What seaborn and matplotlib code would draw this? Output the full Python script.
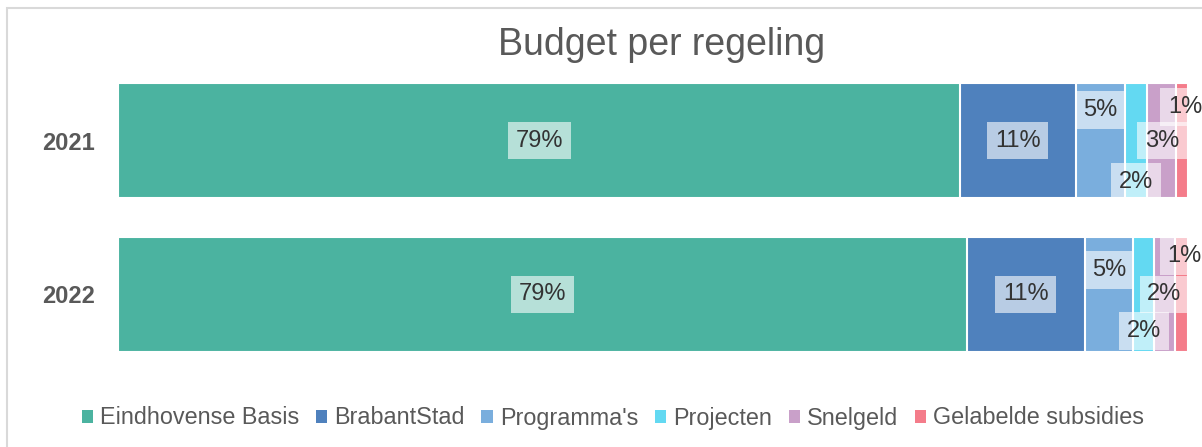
import matplotlib
matplotlib.use("Agg")
import matplotlib.pyplot as plt
from matplotlib.patches import Patch, Rectangle
import numpy as np
import pandas as pd
import seaborn as sns

# Data (percent of total budget per year)
years = ["2021", "2022"]
series = ["Eindhovense Basis", "BrabantStad", "Programma's", "Projecten",
          "Snelgeld", "Gelabelde subsidies"]
values_2021 = [78.7, 10.8, 4.6, 2.1, 2.7, 1.1]
values_2022 = [79.3, 11.1, 4.5, 1.9, 2.0, 1.2]
labels_2021 = ["79%", "11%", "5%", "2%", "3%", "1%"]
labels_2022 = ["79%", "11%", "5%", "2%", "2%", "1%"]
colors = ["#4BB3A0", "#4F81BD", "#7AAEDD", "#63D9F2", "#C9A0C9", "#F47C8A"]

# vertical nudges of the small labels (Excel-style manual placement)
label_dy = {
    "2021": [0, 0, -0.20, 0.27, 0.0, -0.22],
    "2022": [0, 0, -0.16, 0.24, 0.0, -0.25],
}
label_dx = {
    "2021": [0, 0, 0, 0, 0, 0.3],
    "2022": [0, 0, 0, 0, 0, 0.3],
}

sns.set_style("white")
plt.rcParams["font.family"] = ["Liberation Sans", "DejaVu Sans"]

vals = {"2021": values_2021, "2022": values_2022}
labs = {"2021": labels_2021, "2022": labels_2022}

rows = []
for y in years:
    cum = np.cumsum(vals[y])
    for s, v, c in zip(series, vals[y], cum):
        rows.append({"year": y, "series": s, "value": v, "cum": c})
df = pd.DataFrame(rows)

fig = plt.figure(figsize=(12.02, 4.47), dpi=100)
ax = fig.add_axes([118 / 1202, 1 - 352 / 447, 1070 / 1202, 269 / 447])

# stacked bars: draw cumulative totals, longest first
for s, col in reversed(list(zip(series, colors))):
    sub = df[df["series"] == s]
    sns.barplot(data=sub, x="cum", y="year", order=years, orient="h",
                color=col, width=0.75, edgecolor="white", linewidth=1.5,
                errorbar=None, saturation=1, ax=ax)

ax.set_xlim(0, 100)
ax.set_ylim(1.375, -0.375)
ax.set_xlabel("")
ax.set_ylabel("")
ax.set_xticks([])
for sp in ax.spines.values():
    sp.set_visible(False)
ax.tick_params(axis="y", length=0, pad=16.5)
for t in ax.get_yticklabels():
    t.set_fontsize(17)
    t.set_fontweight("bold")
    t.set_color("#595959")

# data labels
for i, y in enumerate(years):
    left = 0
    for j, v in enumerate(vals[y]):
        ax.text(left + v / 2 + label_dx[y][j], i + label_dy[y][j], labs[y][j],
                ha="center", va="center", fontsize=17, color="#333333",
                bbox=dict(boxstyle="square,pad=0.33", facecolor="white",
                          edgecolor="none", alpha=0.6))
        left += v

fig.text(662 / 1202, 1 - 45 / 447, "Budget per regeling", ha="center",
         va="center", fontsize=27, color="#595959")

handles = [Patch(facecolor=c, edgecolor="none", label=s) for s, c in zip(series, colors)]
leg = fig.legend(handles=handles, loc="center", bbox_to_anchor=(613 / 1202, 1 - 418 / 447),
                 ncol=6, frameon=False, fontsize=16.8, handlelength=0.5,
                 handleheight=0.5, handletextpad=0.3, columnspacing=0.7)
for t in leg.get_texts():
    t.set_color("#595959")

# chart border
fig.patches.append(Rectangle((7 / 1202, -0.1), 1.2, 1 - 8 / 447 + 0.1,
                             transform=fig.transFigure, fill=False,
                             edgecolor="#D9D9D9", linewidth=1.5))

fig.savefig("out.png", dpi=100)
